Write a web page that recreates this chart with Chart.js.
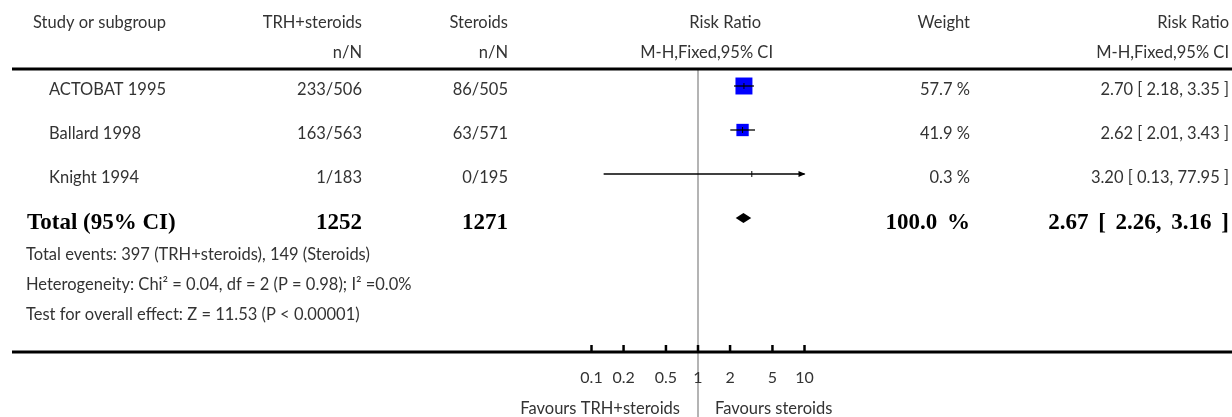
<!DOCTYPE html>
<html>
<head>
<meta charset="utf-8">
<script src="https://cdn.jsdelivr.net/npm/chart.js@4"></script>
<style>
  html, body { margin: 0; padding: 0; background: #fff; }
  #wrap { width: 1232px; height: 417px; }
</style>
</head>
<body>
<div id="wrap"><canvas id="forest" width="1232" height="417"></canvas></div>
<script>
const studies = ['ACTOBAT 1995', 'Ballard 1998', 'Knight 1994'];
const treatEvents = ['233/506', '163/563', '1/183'];
const ctrlEvents = ['86/505', '63/571', '0/195'];
const riskRatio = [2.70, 2.62, 3.20];
const ciLow = [2.18, 2.01, 0.13];
const ciHigh = [3.35, 3.43, 77.95];
const weights = [57.7, 41.9, 0.3];

const totalN = ['1252', '1271'];
const totalWeight = 100.0;
const totalRR = 2.67;
const totalLow = 2.26;
const totalHigh = 3.16;

const tickValues = [0.1, 0.2, 0.5, 1, 2, 5, 10];
const tickLabels = ['0.1', '0.2', '0.5', '1', '2', '5', '10'];
const axisLimits = [0.1, 10];

const footnotes = [
  'Total events: 397 (TRH+steroids), 149 (Steroids)',
  'Heterogeneity: Chi\u00b2 = 0.04, df = 2 (P = 0.98); I\u00b2 =0.0%',
  'Test for overall effect: Z = 11.53 (P < 0.00001)'
];
const favours = ['Favours TRH+steroids', 'Favours steroids'];

const SANS = 'Lato, "Open Sans", sans-serif';
const SERIF = '"Liberation Serif", "DejaVu Serif", serif';
const TXT = '#333';

function fmtPct(w) { return w.toFixed(1) + ' %'; }
function fmtCI(rr, lo, hi) { return rr.toFixed(2) + ' [ ' + lo.toFixed(2) + ', ' + hi.toFixed(2) + ' ]'; }

function text(ctx, s, x, y, align, font, color, baseline) {
  ctx.font = font;
  ctx.fillStyle = color || TXT;
  ctx.textAlign = align;
  ctx.textBaseline = baseline || 'middle';
  ctx.fillText(s, x, y);
}

// table text, rules, CI whiskers, diamond and axis
const forestPlugin = {
  id: 'forest',
  beforeDatasetsDraw(chart) {
    const ctx = chart.ctx;
    const x1 = chart.scales.x.getPixelForValue(1);
    ctx.save();
    ctx.strokeStyle = '#b4b4b4';
    ctx.lineWidth = 2;
    ctx.beginPath();
    ctx.moveTo(x1, 69);
    ctx.lineTo(x1, 417);
    ctx.stroke();
    ctx.restore();
  },
  afterDatasetsDraw(chart) {
    const ctx = chart.ctx;
    const xs = chart.scales.x;
    const ys = chart.scales.y;
    const lo = xs.getPixelForValue(axisLimits[0]);
    const hi = xs.getPixelForValue(axisLimits[1]);
    ctx.save();

    // whiskers
    studies.forEach((s, i) => {
      const y = ys.getPixelForValue(i);
      const a = Math.max(xs.getPixelForValue(ciLow[i]), lo);
      const b = Math.min(xs.getPixelForValue(ciHigh[i]), hi);
      ctx.strokeStyle = '#000';
      ctx.lineWidth = 1.3;
      ctx.beginPath();
      ctx.moveTo(a, y);
      ctx.lineTo(b, y);
      ctx.stroke();
      const c = xs.getPixelForValue(riskRatio[i]);
      ctx.lineWidth = 1;
      ctx.beginPath();
      ctx.moveTo(c, y - 3);
      ctx.lineTo(c, y + 3);
      ctx.stroke();
      if (ciHigh[i] > axisLimits[1]) {
        ctx.fillStyle = '#000';
        ctx.beginPath();
        ctx.moveTo(b + 1, y);
        ctx.lineTo(b - 6, y - 3);
        ctx.lineTo(b - 6, y + 3);
        ctx.closePath();
        ctx.fill();
      }
      if (ciLow[i] < axisLimits[0]) {
        ctx.fillStyle = '#000';
        ctx.beginPath();
        ctx.moveTo(a - 1, y);
        ctx.lineTo(a + 6, y - 3);
        ctx.lineTo(a + 6, y + 3);
        ctx.closePath();
        ctx.fill();
      }
    });

    // pooled diamond
    const ty = ys.getPixelForValue(studies.length);
    ctx.fillStyle = '#000';
    ctx.beginPath();
    ctx.moveTo(xs.getPixelForValue(totalLow), ty);
    ctx.lineTo(xs.getPixelForValue(totalRR), ty - 5);
    ctx.lineTo(xs.getPixelForValue(totalHigh), ty);
    ctx.lineTo(xs.getPixelForValue(totalRR), ty + 5);
    ctx.closePath();
    ctx.fill();

    // rules
    ctx.strokeStyle = '#000';
    ctx.lineWidth = 3;
    ctx.beginPath();
    ctx.moveTo(12, 69); ctx.lineTo(1232, 69);
    ctx.moveTo(12, 352); ctx.lineTo(1232, 352);
    ctx.stroke();

    // axis ticks and labels
    const f = '16.5px ' + SANS;
    ctx.lineWidth = 2.5;
    tickValues.forEach((v, k) => {
      const x = xs.getPixelForValue(v);
      ctx.beginPath();
      ctx.moveTo(x, 352);
      ctx.lineTo(x, 345);
      ctx.stroke();
      text(ctx, tickLabels[k], x, 378, 'center', '16px ' + SANS);
    });
    const x1 = xs.getPixelForValue(1);
    text(ctx, favours[0], x1 - 18, 409, 'right', f);
    text(ctx, favours[1], x1 + 17, 409, 'left', f);

    // headers
    text(ctx, 'Study or subgroup', 33, 23, 'left', f);
    text(ctx, 'TRH+steroids', 362, 23, 'right', f);
    text(ctx, 'n/N', 362, 53, 'right', f);
    text(ctx, 'Steroids', 508, 23, 'right', f);
    text(ctx, 'n/N', 508, 53, 'right', f);
    text(ctx, 'Risk Ratio', 761, 23, 'right', f);
    text(ctx, 'M-H,Fixed,95% CI', 773, 53, 'right', f);
    text(ctx, 'Weight', 970, 23, 'right', f);
    text(ctx, 'Risk Ratio', 1229, 23, 'right', f);
    text(ctx, 'M-H,Fixed,95% CI', 1229, 53, 'right', f);

    // study rows
    studies.forEach((s, i) => {
      const y = ys.getPixelForValue(i) + 4;
      text(ctx, s, 49, y, 'left', f);
      text(ctx, treatEvents[i], 362, y, 'right', f);
      text(ctx, ctrlEvents[i], 508, y, 'right', f);
      text(ctx, fmtPct(weights[i]), 970, y, 'right', f);
      text(ctx, fmtCI(riskRatio[i], ciLow[i], ciHigh[i]), 1229, y, 'right', f);
    });

    // total row
    const bf = 'bold 23px ' + SERIF;
    const by = ty + 11;
    text(ctx, 'Total (95% CI)', 27, by, 'left', bf, '#000', 'alphabetic');
    text(ctx, totalN[0], 362, by, 'right', bf, '#000', 'alphabetic');
    text(ctx, totalN[1], 508, by, 'right', bf, '#000', 'alphabetic');
    ctx.wordSpacing = '4px';
    text(ctx, fmtPct(totalWeight), 970, by, 'right', bf, '#000', 'alphabetic');
    text(ctx, fmtCI(totalRR, totalLow, totalHigh), 1229, by, 'right', bf, '#000', 'alphabetic');
    ctx.wordSpacing = '0px';

    footnotes.forEach((s, k) => {
      text(ctx, s, 26, 255 + k * 30, 'left', f);
    });

    ctx.restore();
  }
};

const boxSize = weights.map(w => 12 * w / Math.max(...weights));

new Chart(document.getElementById('forest'), {
  type: 'scatter',
  data: {
    datasets: [{
      data: studies.map((s, i) => ({ x: riskRatio[i], y: i })),
      pointStyle: 'rect',
      pointRadius: boxSize,
      backgroundColor: '#0000ff',
      borderWidth: 0
    }]
  },
  options: {
    responsive: false,
    animation: false,
    events: [],
    layout: { padding: 0, autoPadding: false },
    clip: false,
    plugins: { legend: { display: false }, tooltip: { enabled: false } },
    scales: {
      x: { type: 'logarithmic', display: false, bounds: 'data', min: Math.pow(10, -6.554), max: Math.pow(10, 5.014) },
      y: { type: 'linear', display: false, reverse: true, min: -86 / 44, max: (417 - 86) / 44 }
    }
  },
  plugins: [forestPlugin]
});
</script>
</body>
</html>
